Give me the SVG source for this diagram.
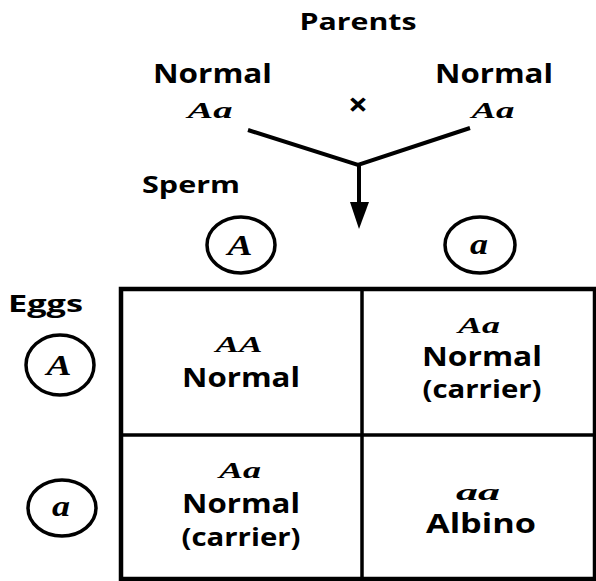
<svg xmlns="http://www.w3.org/2000/svg" width="596" height="581" viewBox="0 0 596 581">
<style>
.lbl{font-family:"Open Sans","DejaVu Sans",sans-serif;font-weight:700;fill:#000;text-anchor:middle;}
.gen{font-family:"Liberation Serif","DejaVu Serif",serif;font-style:italic;font-weight:bold;fill:#000;text-anchor:middle;}
.ring{fill:none;stroke:#000;stroke-width:3.5;}
.line{fill:none;stroke:#000;stroke-width:4;stroke-linejoin:miter;}
</style>
<rect width="596" height="581" fill="#fff"/>
<g id="parents-title"><text class="lbl" x="358" y="30" font-size="24" textLength="117" lengthAdjust="spacingAndGlyphs">Parents</text></g>
<g id="parent-left">
<text class="lbl" x="212.5" y="83" font-size="27" textLength="119" lengthAdjust="spacingAndGlyphs">Normal</text>
<text class="gen" x="210" y="118" font-size="24" textLength="45" lengthAdjust="spacingAndGlyphs">Aa</text>
</g>
<g id="parent-right">
<text class="lbl" x="494" y="83" font-size="27" textLength="118" lengthAdjust="spacingAndGlyphs">Normal</text>
<text class="gen" x="493" y="118" font-size="24" textLength="43" lengthAdjust="spacingAndGlyphs">Aa</text>
</g>
<g id="cross"><text class="lbl" x="358" y="116" font-size="32" textLength="20" lengthAdjust="spacingAndGlyphs">×</text></g>
<g id="connectors">
<polyline class="line" points="248,130 358,165 470,128"/>
<line class="line" x1="359" y1="164" x2="359" y2="206"/>
<polygon points="350,202 369,202 359,229" fill="#000"/>
</g>
<g id="sperm-label"><text class="lbl" x="142" y="193" font-size="23" textLength="98" lengthAdjust="spacingAndGlyphs" style="text-anchor:start">Sperm</text></g>
<g id="sperm-A"><ellipse class="ring" cx="241" cy="245" rx="34" ry="28"/><text class="gen" x="240" y="255" font-size="29" textLength="25" lengthAdjust="spacingAndGlyphs">A</text></g>
<g id="sperm-a"><ellipse class="ring" cx="480" cy="245" rx="35" ry="28"/><text class="gen" x="479" y="254" font-size="29" textLength="18" lengthAdjust="spacingAndGlyphs">a</text></g>
<g id="eggs-label"><text class="lbl" x="8" y="312" font-size="23" textLength="75" lengthAdjust="spacingAndGlyphs" style="text-anchor:start">Eggs</text></g>
<g id="egg-A"><ellipse class="ring" cx="60" cy="365" rx="34" ry="30"/><text class="gen" x="59" y="375" font-size="29" textLength="25" lengthAdjust="spacingAndGlyphs">A</text></g>
<g id="egg-a"><ellipse class="ring" cx="62" cy="508" rx="34" ry="28"/><text class="gen" x="61" y="516" font-size="29" textLength="18" lengthAdjust="spacingAndGlyphs">a</text></g>
<g id="grid">
<rect x="121" y="289" width="474" height="290" fill="none" stroke="#000" stroke-width="4.5"/>
<line x1="362" y1="289" x2="362" y2="579" stroke="#000" stroke-width="3.5"/>
<line x1="121" y1="435" x2="595" y2="435" stroke="#000" stroke-width="3.5"/>
</g>
<g id="cell-AA">
<text class="gen" x="239" y="352" font-size="24" textLength="47" lengthAdjust="spacingAndGlyphs">AA</text>
<text class="lbl" x="241" y="387" font-size="26" textLength="118" lengthAdjust="spacingAndGlyphs">Normal</text>
</g>
<g id="cell-Aa-top">
<text class="gen" x="479" y="333" font-size="24" textLength="42" lengthAdjust="spacingAndGlyphs">Aa</text>
<text class="lbl" x="482" y="366" font-size="26" textLength="120" lengthAdjust="spacingAndGlyphs">Normal</text>
<text class="lbl" x="482" y="398" font-size="25" textLength="119" lengthAdjust="spacingAndGlyphs">(carrier)</text>
</g>
<g id="cell-Aa-bottom">
<text class="gen" x="240" y="478" font-size="24" textLength="42" lengthAdjust="spacingAndGlyphs">Aa</text>
<text class="lbl" x="241" y="513" font-size="26" textLength="118" lengthAdjust="spacingAndGlyphs">Normal</text>
<text class="lbl" x="241" y="546" font-size="25" textLength="119" lengthAdjust="spacingAndGlyphs">(carrier)</text>
</g>
<g id="cell-aa">
<text class="gen" x="478" y="500" font-size="24" textLength="44" lengthAdjust="spacingAndGlyphs">aa</text>
<text class="lbl" x="481" y="533" font-size="26" textLength="110" lengthAdjust="spacingAndGlyphs">Albino</text>
</g>
</svg>
